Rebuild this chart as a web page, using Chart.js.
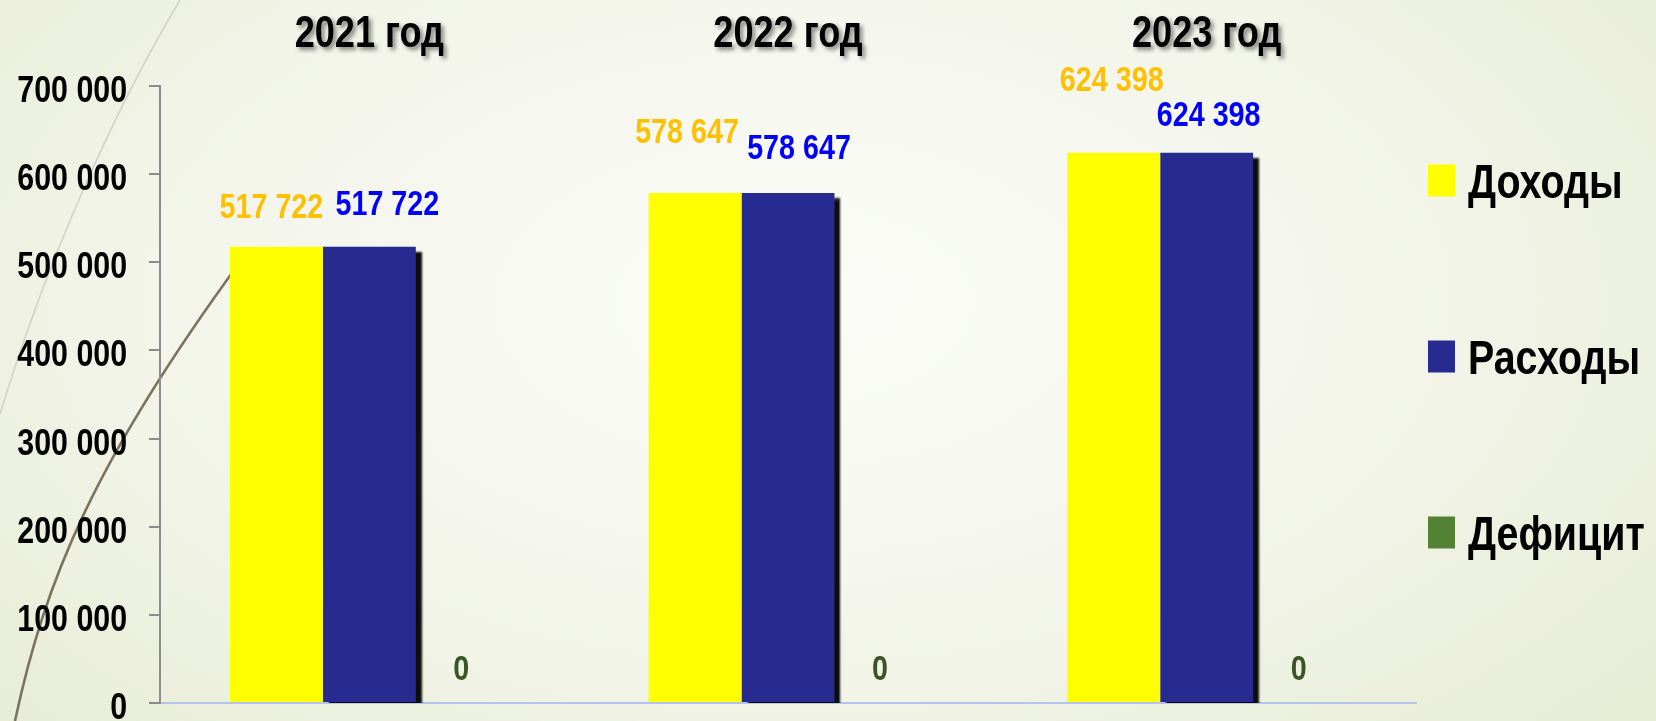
<!DOCTYPE html>
<html lang="ru">
<head>
<meta charset="utf-8">
<title>Доходы, расходы, дефицит</title>
<script src="https://cdn.jsdelivr.net/npm/chart.js@4.4.1/dist/chart.umd.min.js"></script>
<style>
  html, body { margin: 0; padding: 0; }
  body {
    width: 1656px; height: 721px; overflow: hidden; position: relative;
    background: radial-gradient(ellipse 75% 95% at 48% 42%, #fbfcf8 0%, #f4f6ec 45%, #e4eacf 100%);
  }
  #deco { position: absolute; left: 0; top: 0; }
  #wrap { position: absolute; left: 0; top: 0; width: 1656px; height: 721px; }
</style>
</head>
<body>
<svg id="deco" width="1656" height="721">
  <path d="M180 0 C120 100, 50 250, 0 414" fill="none" stroke="#d2d3c4" stroke-width="1.6"/>
  <path d="M15 721 C45 580, 95 460, 240 262" fill="none" stroke="#7b735f" stroke-width="2.6"/>
</svg>
<div id="wrap"><canvas id="budgetChart"></canvas></div>
<script>
// данные
const years = ["2021 год", "2022 год", "2023 год"];
const seriesNames = ["Доходы", "Расходы", "Дефицит"];
const incomeValues = [517722, 578647, 624398];
const expenseValues = [517722, 578647, 624398];
const deficitValues = [0, 0, 0];
const yTicks = [0, 100000, 200000, 300000, 400000, 500000, 600000, 700000];

// узкий шрифт: Liberation Sans, сжатый по ширине (как Arial Narrow)
const FONT = "'Liberation Sans', Arial, sans-serif";
const NARROW = 0.82;
const barColors = ["#ffff00", "#272b8f", "#548235"];
const labelColors = ["#ffc000", "#0000ff", "#375623"];
// смещения подписей (dx, dy от верха столбика) — как на слайде
const labelShift = [
  [[-5, -41], [-8, -62], [-2, -74]],
  [[18, -44], [11, -46], [2, -39]],
  [[-1, -36], [-1, -36], [-1, -36]],
];

const fmt = (v) => String(v).replace(/\B(?=(\d{3})+(?!\d))/g, " ");

function narrowText(ctx, text, x, y, align) {
  ctx.save();
  ctx.translate(x, y);
  ctx.scale(NARROW, 1);
  ctx.textAlign = align;
  ctx.textBaseline = "alphabetic";
  ctx.fillText(text, 0, 0);
  ctx.restore();
}

// тень у синих столбиков
const barShadow = {
  id: "barShadow",
  beforeDatasetDraw(chart, args) {
    if (args.index !== 1) return;
    const ctx = chart.ctx;
    ctx.save();
    ctx.shadowColor = "rgba(0,0,0,0.95)";
    ctx.shadowOffsetX = 6;
    ctx.shadowOffsetY = 5;
    ctx.shadowBlur = 2;
  },
  afterDatasetDraw(chart, args) {
    if (args.index !== 1) return;
    chart.ctx.restore();
  },
};

// подписи оси Y, значений, годы и легенда
const overlay = {
  id: "overlay",
  afterDraw(chart) {
    const ctx = chart.ctx;
    const area = chart.chartArea;
    const ys = chart.scales.y;
    const xs = chart.scales.x;
    ctx.save();

    // подписи оси Y
    ctx.font = "bold 37px " + FONT;
    ctx.fillStyle = "#000";
    ys.ticks.forEach((t) => {
      narrowText(ctx, fmt(t.value), area.left - 33, ys.getPixelForValue(t.value) + 16, "right");
    });

    // значения над столбиками
    ctx.font = "bold 35px " + FONT;
    chart.data.datasets.forEach((ds, di) => {
      const meta = chart.getDatasetMeta(di);
      meta.data.forEach((bar, i) => {
        const [dx, dy] = labelShift[di][i];
        ctx.fillStyle = labelColors[di];
        narrowText(ctx, fmt(ds.data[i]), bar.x + dx, bar.y + dy + 12.5, "center");
      });
    });

    // годы сверху
    ctx.font = "bold 44px " + FONT;
    ctx.fillStyle = "#000";
    ctx.shadowColor = "rgba(0,0,0,0.45)";
    ctx.shadowOffsetX = 3;
    ctx.shadowOffsetY = 3;
    ctx.shadowBlur = 4;
    chart.data.labels.forEach((lab, i) => {
      narrowText(ctx, lab, xs.getPixelForValue(i), area.top - 39, "center");
    });
    ctx.shadowColor = "transparent";

    // легенда справа
    ctx.font = "bold 48px " + FONT;
    chart.data.datasets.forEach((ds, di) => {
      const cy = chart.height / 2 - 4 + (di - 1) * 176;
      ctx.fillStyle = ds.backgroundColor;
      ctx.fillRect(area.right + 12, cy - 16, 27, 32);
      ctx.fillStyle = "#000";
      narrowText(ctx, ds.label, area.right + 52, cy + 17, "left");
    });
    ctx.restore();
  },
};

const ctx = document.getElementById("budgetChart").getContext("2d");
const budgetChart = new Chart(ctx, {
  type: "bar",
  data: {
    labels: years,
    datasets: [
      { label: seriesNames[0], data: incomeValues, backgroundColor: barColors[0] },
      { label: seriesNames[1], data: expenseValues, backgroundColor: barColors[1] },
      { label: seriesNames[2], data: deficitValues, backgroundColor: barColors[2] },
    ],
  },
  options: {
    responsive: true,
    maintainAspectRatio: false,
    animation: false,
    layout: { padding: { left: 15, right: 240, top: 86, bottom: 18 } },
    datasets: {
      bar: { categoryPercentage: 0.666, barPercentage: 1, borderWidth: 0, clip: 0 },
    },
    scales: {
      x: {
        afterFit: (scale) => {
          scale.height = 0;
        },
        grid: { display: false },
        border: { display: true, color: "#b4c4ec", width: 2 },
        ticks: { display: false },
      },
      y: {
        min: 0,
        max: 700000,
        afterBuildTicks: (scale) => {
          scale.ticks = yTicks.map((v) => ({ value: v }));
        },
        afterFit: (scale) => {
          scale.width = 145;
        },
        grid: { drawOnChartArea: false, drawTicks: true, tickLength: 11, color: "#8c8c8c", lineWidth: 2 },
        border: { display: true, color: "#8c8c8c", width: 2 },
        ticks: { display: false },
      },
    },
    plugins: {
      legend: { display: false },
      tooltip: { enabled: false },
    },
  },
  plugins: [barShadow, overlay],
});
</script>
</body>
</html>
